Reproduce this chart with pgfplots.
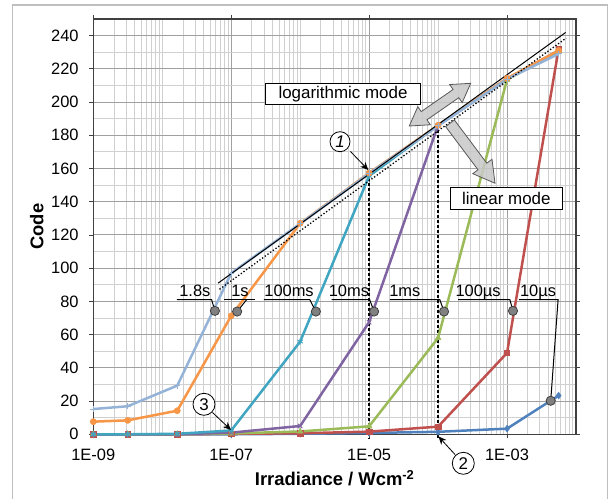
\documentclass[border=0pt]{standalone}
\usepackage{pgfplots}
\pgfplotsset{compat=1.18}
\usepackage{pgfplotstable}
\usepackage{fontspec}
\setmainfont{Liberation Sans}
\usetikzlibrary{arrows.meta}
\definecolor{cBlue}{HTML}{4F81BD}
\definecolor{cRed}{HTML}{C0504D}
\definecolor{cGreen}{HTML}{9BBB59}
\definecolor{cPurple}{HTML}{8064A2}
\definecolor{cTeal}{HTML}{40A5C0}
\definecolor{cOrange}{HTML}{F79646}
\definecolor{cLight}{HTML}{95B3D7}
\definecolor{gMajor}{HTML}{A0A0A0}
\definecolor{gMinor}{HTML}{D0D0D0}
\definecolor{frameC}{HTML}{BFBFBF}
\definecolor{axisC}{HTML}{404040}
\definecolor{dotFill}{HTML}{808080}
\definecolor{arrFill}{HTML}{C8C8C8}
\definecolor{arrDraw}{HTML}{595959}

% x = irradiance (W/cm^2); columns: 10us, 100us, 1ms, 10ms, 100ms, 1s, 1.8s
\pgfplotstableread{
x        us10  us100 ms1   ms10  ms100 s1    s18
1e-9     0     0     0     0     0     7.6   15.2
3.16e-9  0     0     0     0     0     8.4   16.9
1.65e-8  0     0     0     0     0.3   14.2  29.3
1e-7     0     0.3   0.5   1     2.3   71.3  97
1e-6     0.3   0.6   1.7   5     55.8  127   126.8
1e-5     0.8   1.6   4.8   67.5  155.5 157.3 157
1e-4     1.5   4.6   58    186   186   186   185.7
1e-3     3.4   49    213.5 214   214   214.3 213.8
5.6e-3   23.3  232   231   231   230   231   229
}\datatable

\begin{document}
\begin{tikzpicture}
\path[use as bounding box] (0,0) rectangle (611bp,499bp);
\draw[color=frameC, line width=1.5bp] (12.7bp,-3bp) -- (12.7bp,494bp) -- (607.5bp,494bp) -- (607.5bp,-3bp);
\begin{axis}[
  at={(93.3bp,64.7bp)}, anchor=south west,
  width=482.7bp, height=415.3bp, scale only axis,
  xmode=log, xmin=1e-9, xmax=1e-2, ymin=0, ymax=250,
  clip=false,
  xtick={1e-9,1e-7,1e-5,1e-3},
  xticklabels={1E-09,1E-07,1E-05,1E-03},
  minor xtick={2e-9,3e-9,4e-9,5e-9,6e-9,7e-9,8e-9,9e-9,
    1e-8,2e-8,3e-8,4e-8,5e-8,6e-8,7e-8,8e-8,9e-8,
    2e-7,3e-7,4e-7,5e-7,6e-7,7e-7,8e-7,9e-7,
    1e-6,2e-6,3e-6,4e-6,5e-6,6e-6,7e-6,8e-6,9e-6,
    2e-5,3e-5,4e-5,5e-5,6e-5,7e-5,8e-5,9e-5,
    1e-4,2e-4,3e-4,4e-4,5e-4,6e-4,7e-4,8e-4,9e-4,
    2e-3,3e-3,4e-3,5e-3,6e-3,7e-3,8e-3,9e-3},
  ytick={0,20,...,240},
  minor ytick={10,30,...,230},
  grid=both,
  major grid style={draw=gMajor, line width=1bp},
  minor grid style={draw=gMinor, line width=1bp},
  axis line style={draw=axisC, line width=1.3bp},
  tick align=outside,
  major tick length=4bp, minor tick length=0pt,
  tick style={draw=axisC, line width=0.8bp},
  /pgf/number format/assume math mode=true,
  ticklabel style={font=\fontsize{16.5}{19}\selectfont, text=black},
  yticklabel style={anchor=east, inner sep=0pt, xshift=-10.5bp},
  xticklabel style={anchor=north, inner sep=0pt, yshift=-11bp},
  xlabel={Irradiance / Wcm\textsuperscript{-2}},
  ylabel={Code},
  xlabel style={at={(axis description cs:0.5,-0.106)}, anchor=center, font=\fontsize{18.5}{21}\selectfont\bfseries},
  ylabel style={at={(axis description cs:-0.1173,0.5)}, anchor=center, font=\fontsize{18.5}{21}\selectfont\bfseries},
  every axis plot/.append style={line width=2.5bp},
]
% dashed reference lines
\draw[black, line width=1.3bp, dash pattern=on 3bp off 2bp] (axis cs:1e-5,157) -- (axis cs:1e-5,-3);
\draw[black, line width=1.3bp, dash pattern=on 3bp off 2bp] (axis cs:1e-4,186) -- (axis cs:1e-4,-3);

\addplot[cBlue, mark=diamond*, mark size=3.4bp, mark options={fill=cBlue, draw=cBlue, line width=0.5bp}] table[x=x, y=us10] {\datatable};
\addplot[cRed, mark=square*, mark size=2.7bp, mark options={fill=cRed, draw=cRed, line width=0.5bp}] table[x=x, y=us100] {\datatable};
\addplot[cGreen, mark=triangle*, mark size=3.4bp, mark options={fill=cGreen, draw=cGreen, line width=0.5bp}] table[x=x, y=ms1] {\datatable};
\addplot[cPurple, mark=x, mark size=3bp, mark options={draw=cPurple, line width=1bp}] table[x=x, y=ms10] {\datatable};
\addplot[cTeal, mark=asterisk, mark size=3bp, mark options={draw=cTeal, line width=1bp}] table[x=x, y=ms100] {\datatable};
\addplot[cOrange, mark=*, mark size=3.1bp, mark options={fill=cOrange, draw=cOrange, line width=0.5bp}] table[x=x, y=s1] {\datatable};
\addplot[cLight, mark=+, mark size=3bp, mark options={draw=cLight, line width=1bp}] table[x=x, y=s18] {\datatable};

% logarithmic fit lines
\addplot[black, line width=1bp, no marks] coordinates {(6.46e-8,91) (7.08e-3,241.9)};
\addplot[black, line width=1.3bp, dotted, no marks] coordinates {(6.76e-8,87.3) (7.2e-3,238.5)};

% label leader lines
\draw[black, line width=1bp] (axis cs:1.63e-8,81) -- (axis cs:5.2e-8,81) -- (axis cs:5.8e-8,74.3);
\draw[black, line width=1bp] (axis cs:7.8e-8,81) -- (axis cs:2.2e-7,81);
\draw[black, line width=1bp] (axis cs:1.67e-7,81) -- (axis cs:1.22e-7,73.9);
\draw[black, line width=1bp] (axis cs:2.98e-7,81) -- (axis cs:1.38e-6,81) -- (axis cs:1.69e-6,73.9);
\draw[black, line width=1bp] (axis cs:2.85e-6,81) -- (axis cs:1.02e-5,81) -- (axis cs:1.18e-5,73.9);
\draw[black, line width=1bp] (axis cs:2e-5,81) -- (axis cs:1.06e-4,81) -- (axis cs:1.22e-4,73.9);
\draw[black, line width=1bp] (axis cs:1.95e-4,81) -- (axis cs:1.1e-3,81) -- (axis cs:1.22e-3,74.3);
\draw[black, line width=1bp] (axis cs:1.48e-3,81) -- (axis cs:5.5e-3,81) -- (axis cs:4.3e-3,20.2);

\addplot[only marks, mark=*, mark size=4.6bp, mark options={fill=dotFill, draw=axisC, line width=0.8bp}] coordinates {
  (5.8e-8,74.3) (1.22e-7,73.9) (1.69e-6,73.9) (1.18e-5,73.9) (1.22e-4,73.9) (1.22e-3,74.3) (4.3e-3,20.2)};

\begin{scope}[every node/.style={font=\fontsize{16.5}{19}\selectfont, anchor=base, inner sep=0pt, yshift=3bp}]
\node at (axis cs:2.97e-8,81) {1.8s};
\node at (axis cs:1.34e-7,81) {1s};
\node at (axis cs:6.9e-7,81) {100ms};
\node at (axis cs:5.1e-6,81) {10ms};
\node at (axis cs:3.3e-5,81) {1ms};
\node at (axis cs:3.8e-4,81) {100µs};
\node at (axis cs:2.82e-3,81) {10µs};
\end{scope}
\end{axis}

\begin{scope}[x=1bp, y=1bp]
% gray block arrows
\begin{scope}[shift={(409.3,373)}, rotate=34.8]
\filldraw[fill=arrFill, fill opacity=0.85, draw=arrDraw, line width=0.8bp]
  (0,0) -- (18,11) -- (18,5) -- (56.8,5) -- (56.8,11) -- (74.8,0) -- (56.8,-11) -- (56.8,-5) -- (18,-5) -- (18,-11) -- cycle;
\end{scope}
\begin{scope}[shift={(450,375.7)}, rotate=-53.1]
\filldraw[fill=arrFill, fill opacity=0.85, draw=arrDraw, line width=0.8bp]
  (0,5.5) -- (54,5.5) -- (54,12) -- (75,0) -- (54,-12) -- (54,-5.5) -- (0,-5.5) -- cycle;
\end{scope}
% mode boxes
\draw[black, fill=white, line width=1bp] (265.7,394) rectangle (420,415.7);
\node[font=\fontsize{17}{20}\selectfont, inner sep=0pt] at (343,404.8) {logarithmic mode};
\draw[black, fill=white, line width=1bp] (450,289.7) rectangle (562.7,311.3);
\node[font=\fontsize{17}{20}\selectfont, inner sep=0pt] at (506.3,300.5) {linear mode};
% numbered callouts
\draw[line width=0.8bp, fill=white] (340,357.3) circle (10);
\node[font=\fontsize{17}{20}\selectfont\itshape] at (340,357.3) {1};
\draw[line width=0.8bp, -{Stealth[length=8bp,width=7bp]}] (350.5,347.5) -- (368.3,329);
\draw[line width=0.8bp, fill=white] (204,94.7) circle (11);
\node[font=\fontsize{17}{20}\selectfont] at (204,94.7) {3};
\draw[line width=0.8bp, -{Stealth[length=8bp,width=7bp]}] (212.5,86.5) -- (231,69);
\draw[line width=0.8bp, fill=white] (463.3,35.7) circle (11);
\node[font=\fontsize{17}{20}\selectfont] at (463.3,35.7) {2};
\draw[line width=0.8bp, -{Stealth[length=8bp,width=7bp]}] (455,44.5) -- (438.5,62.5);
\end{scope}
\end{tikzpicture}
\end{document}
